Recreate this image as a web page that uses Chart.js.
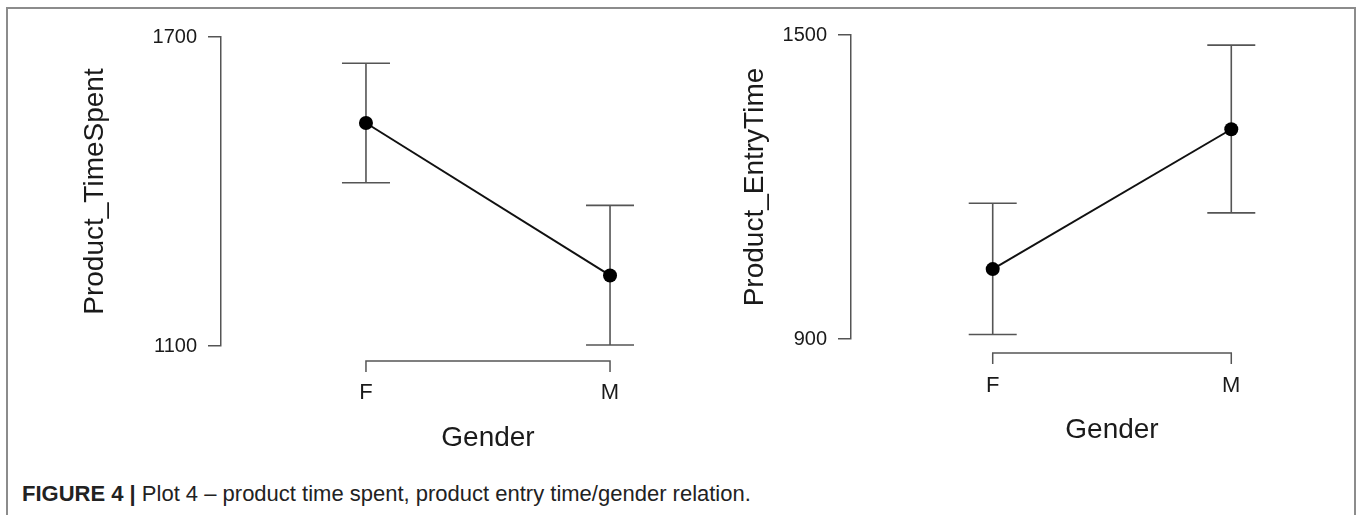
<!DOCTYPE html>
<html>
<head>
<meta charset="utf-8">
<script src="https://cdn.jsdelivr.net/npm/chart.js@4.4.1/dist/chart.umd.min.js"></script>
<style>
  html, body { margin: 0; padding: 0; background: #fff; width: 1358px; height: 515px; overflow: hidden; position: relative; font-family: "Liberation Sans", Arial, sans-serif; }
  #frame { position: absolute; left: 6px; top: 7px; width: 1346px; height: 600px; border: 2px solid #8c8c8c; }
  canvas { position: absolute; top: 0; }
  #left { left: 0; }
  #right { left: 680px; }
  #caption { position: absolute; left: 22px; top: 481px; font-size: 22px; color: #222; white-space: nowrap; }
  #caption b { font-weight: bold; }
</style>
</head>
<body>
<div id="frame"></div>
<canvas id="left" width="780" height="470"></canvas>
<canvas id="right" width="700" height="470"></canvas>
<div id="caption"><b>FIGURE 4 |</b> Plot 4 – product time spent, product entry time/gender relation.</div>
<script>
// gender groups on the x axis
var genders = ['F', 'M'];

// Product_TimeSpent: mean and error bar ends
var timeSpentMean = [1533, 1237];
var timeSpentLow = [1417, 1102];
var timeSpentHigh = [1649, 1373];
var timeSpentTicks = [1100, 1700];

// Product_EntryTime: mean and error bar ends
var entryTimeMean = [1038, 1314];
var entryTimeLow = [909, 1149];
var entryTimeHigh = [1168, 1480];
var entryTimeTicks = [900, 1500];

Chart.defaults.font.family = '"Liberation Sans", Arial, sans-serif';
Chart.defaults.color = '#1a1a1a';

// vertical bars with caps, drawn under the line and points
var errorBars = {
    id: 'errorBars',
    beforeDatasetsDraw: function(chart, args, opts){
        var x = chart.scales.x, y = chart.scales.y, ctx = chart.ctx;
        ctx.save();
        ctx.strokeStyle = '#555';
        ctx.lineWidth = 1.6;
        opts.low.forEach(function(lo, i){
            var px = x.getPixelForValue(i);
            var top = y.getPixelForValue(opts.high[i]);
            var bot = y.getPixelForValue(lo);
            ctx.beginPath();
            ctx.moveTo(px, top); ctx.lineTo(px, bot);
            ctx.moveTo(px - 24, top); ctx.lineTo(px + 24, top);
            ctx.moveTo(px - 24, bot); ctx.lineTo(px + 24, bot);
            ctx.stroke();
        });
        ctx.restore();
    }
};

// R style x axis: a bracket from the first to the last group
var bracket = {
    id: 'bracket',
    afterDraw: function(chart, args, opts){
        var x = chart.scales.x, ctx = chart.ctx;
        var y0 = chart.chartArea.bottom + opts.gap;
        var x0 = x.getPixelForValue(0), x1 = x.getPixelForValue(genders.length - 1);
        ctx.save();
        ctx.strokeStyle = '#555';
        ctx.lineWidth = 1.5;
        ctx.beginPath();
        ctx.moveTo(x0, y0 + 11); ctx.lineTo(x0, y0); ctx.lineTo(x1, y0); ctx.lineTo(x1, y0 + 11);
        ctx.stroke();
        ctx.restore();
    }
};

function drawPanel(id, o){
    new Chart(document.getElementById(id), {
        type: 'line',
        data: {
            datasets: [{
                data: o.mean.map(function(v, i){ return {x: i, y: v}; }),
                borderColor: '#111',
                borderWidth: 2,
                pointRadius: 7,
                pointBackgroundColor: '#000',
                pointBorderWidth: 0,
                tension: 0
            }]
        },
        options: {
            responsive: false,
            animation: false,
            events: [],
            layout: { padding: { top: o.top, right: o.right, left: 0, bottom: 0 } },
            plugins: {
                legend: { display: false },
                tooltip: { enabled: false },
                errorBars: { low: o.low, high: o.high },
                bracket: { gap: o.gap }
            },
            scales: {
                x: {
                    type: 'linear', min: -0.594, max: 1.594,
                    afterBuildTicks: function(a){ a.ticks = genders.map(function(g, i){ return {value: i}; }); },
                    afterFit: function(a){ a.height = o.xHeight; },
                    ticks: { callback: function(v){ return genders[v]; }, padding: 34, font: { size: 22 }, autoSkip: false, maxRotation: 0 },
                    grid: { display: false, drawTicks: false },
                    border: { display: false },
                    title: { display: true, text: 'Gender', font: { size: 28 }, padding: { top: 0, bottom: o.titleB } }
                },
                y: {
                    min: o.ticks[0], max: o.ticks[1],
                    afterBuildTicks: function(a){ a.ticks = o.ticks.map(function(v){ return {value: v}; }); },
                    afterFit: function(a){ a.width = o.yWidth; },
                    ticks: { callback: function(v){ return String(v); }, padding: 11, font: { size: 20 } },
                    grid: { drawOnChartArea: false, tickLength: 13, color: '#555', lineWidth: 1.5 },
                    border: { color: '#555', width: 1.5 },
                    title: { display: true, text: o.title, font: { size: 28 }, padding: { top: o.titleL, bottom: 0 } }
                }
            }
        },
        plugins: [errorBars, bracket]
    });
}

drawPanel('left', {
    mean: timeSpentMean, low: timeSpentLow, high: timeSpentHigh, ticks: timeSpentTicks,
    title: 'Product_TimeSpent',
    top: 37, right: 25, xHeight: 124, yWidth: 221, titleL: 78, titleB: 15, gap: 15
});
drawPanel('right', {
    mean: entryTimeMean, low: entryTimeLow, high: entryTimeHigh, ticks: entryTimeTicks,
    title: 'Product_EntryTime',
    top: 35, right: 6, xHeight: 131, yWidth: 171, titleL: 58, titleB: 23, gap: 14
});
</script>
</body>
</html>
